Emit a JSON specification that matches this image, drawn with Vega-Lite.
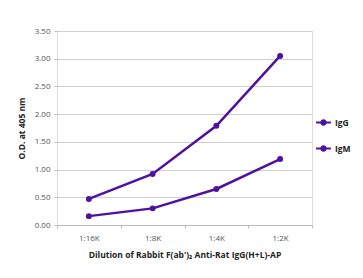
{
  "$schema": "https://vega.github.io/schema/vega-lite/v6.json",
  "width": 255,
  "height": 194,
  "autosize": "none",
  "padding": {"left": 57, "top": 31, "right": 51, "bottom": 53},
  "background": "white",
  "data": {"values": [
    {"dilution": "1:16K", "series": "IgG", "od": 0.47},
    {"dilution": "1:8K", "series": "IgG", "od": 0.92},
    {"dilution": "1:4K", "series": "IgG", "od": 1.79},
    {"dilution": "1:2K", "series": "IgG", "od": 3.05},
    {"dilution": "1:16K", "series": "IgM", "od": 0.16},
    {"dilution": "1:8K", "series": "IgM", "od": 0.30},
    {"dilution": "1:4K", "series": "IgM", "od": 0.65},
    {"dilution": "1:2K", "series": "IgM", "od": 1.19}
  ]},
  "encoding": {
    "x": {
      "field": "dilution", "type": "nominal", "sort": ["1:16K", "1:8K", "1:4K", "1:2K"],
      "scale": {"paddingInner": 0, "paddingOuter": 0},
      "axis": {
        "title": "Dilution of Rabbit F(ab')₂ Anti-Rat IgG(H+L)-AP",
        "labelAngle": 0, "tickBand": "extent", "domainColor": "#bbbbbb", "tickColor": "#bbbbbb",
        "tickSize": 3, "labelColor": "#555555", "labelFontSize": 8, "labelFont": "Open Sans",
        "labelPadding": 6, "titleFont": "Open Sans", "titleFontSize": 8.5, "titleFontWeight": "bold",
        "titleColor": "#222222", "titlePadding": 8, "grid": false
      }
    },
    "y": {
      "field": "od", "type": "quantitative",
      "scale": {"domain": [0, 3.5], "nice": false},
      "axis": {
        "title": "O.D. at 405 nm", "values": [0, 0.5, 1, 1.5, 2, 2.5, 3, 3.5], "format": ".2f",
        "domain": false, "tickColor": "#bbbbbb", "tickSize": 3, "gridColor": "#d0d0d0",
        "labelColor": "#555555", "labelFontSize": 8, "labelFont": "Open Sans", "labelPadding": 4,
        "titleFont": "Open Sans", "titleFontSize": 8.5, "titleFontWeight": "bold", "titleColor": "#222222",
        "titlePadding": 8
      }
    },
    "color": {
      "field": "series", "type": "nominal",
      "scale": {"domain": ["IgG", "IgM"], "range": ["#4f12a0", "#4f12a0"]},
      "legend": {
        "title": null, "orient": "none", "legendX": 258, "legendY": 83,
        "symbolType": "M -1 0 L 1 0 M -0.3 0 A 0.3 0.3 0 1 0 0.3 0 A 0.3 0.3 0 1 0 -0.3 0",
        "symbolSize": 220, "symbolStrokeWidth": 2, "symbolFillColor": "#4f12a0",
        "labelFont": "Open Sans", "labelFontSize": 8.5, "labelFontWeight": "bold", "labelColor": "#222222",
        "rowPadding": 11, "labelOffset": 3
      }
    }
  },
  "layer": [
    {"mark": {"type": "line", "strokeWidth": 2.5}},
    {"mark": {"type": "point", "filled": true, "size": 35, "opacity": 1}}
  ]
}
